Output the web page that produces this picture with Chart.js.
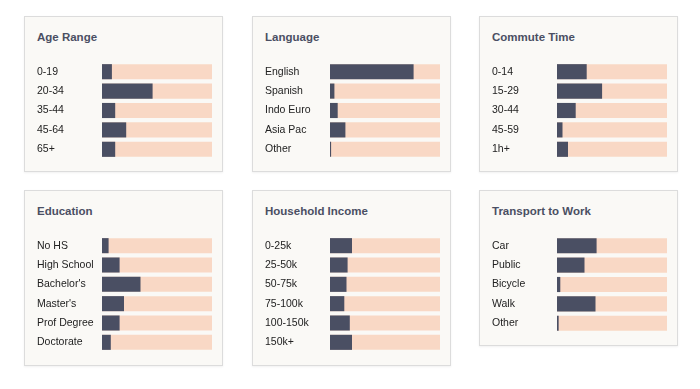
<!DOCTYPE html>
<html>
<head>
<meta charset="utf-8">
<script src="https://cdn.jsdelivr.net/npm/chart.js@4"></script>
<style>
  html, body { margin: 0; padding: 0; background: #ffffff; }
  body { width: 700px; height: 389px; position: relative; overflow: hidden;
         font-family: "Liberation Sans", Helvetica, Arial, sans-serif; }
  .panel { position: absolute; width: 199px; box-sizing: border-box;
           background: #faf9f6; border: 1px solid #dcdcdc;
           box-shadow: 0 1px 2px rgba(0,0,0,0.06); }
  .panel h3 { position: absolute; left: 12px; top: 13px; margin: 0;
              font-size: 11.5px; font-weight: bold; color: #4a4f63; line-height: 14px; }
  .panel canvas { position: absolute; left: 12px; top: 45px; }
</style>
</head>
<body>
<div class="panel" style="left:24px; top:16px; height:156px"><h3>Age Range</h3><canvas id="c1"></canvas></div>
<div class="panel" style="left:252px; top:16px; height:156px"><h3>Language</h3><canvas id="c2"></canvas></div>
<div class="panel" style="left:479px; top:16px; height:156px"><h3>Commute Time</h3><canvas id="c3"></canvas></div>
<div class="panel" style="left:24px; top:190px; height:176px"><h3>Education</h3><canvas id="c4"></canvas></div>
<div class="panel" style="left:252px; top:190px; height:176px"><h3>Household Income</h3><canvas id="c5"></canvas></div>
<div class="panel" style="left:479px; top:190px; height:156px"><h3>Transport to Work</h3><canvas id="c6"></canvas></div>
<script>
// ---------- DATA (percent of people) ----------
const ageLabels = ["0-19", "20-34", "35-44", "45-64", "65+"];
const ageValues = [9, 46, 12, 22, 12];

const languageLabels = ["English", "Spanish", "Indo Euro", "Asia Pac", "Other"];
const languageValues = [76, 4, 7, 14, 1];

const commuteLabels = ["0-14", "15-29", "30-44", "45-59", "1h+"];
const commuteValues = [27, 41, 17, 5, 10];

const educationLabels = ["No HS", "High School", "Bachelor's", "Master's", "Prof Degree", "Doctorate"];
const educationValues = [6, 16, 35, 20, 16, 8];

const incomeLabels = ["0-25k", "25-50k", "50-75k", "75-100k", "100-150k", "150k+"];
const incomeValues = [20, 16, 15, 13, 18, 20];

const transportLabels = ["Car", "Public", "Bicycle", "Walk", "Other"];
const transportValues = [36, 25, 3, 35, 1.5];

const trackMax = 100;

const DARK = "#4a4f63";
const PEACH = "#f9d8c5";

// ---------- ONE SMALL BAR CHART PER PANEL ----------
function makeChart(id, labels, values) {
  const canvas = document.getElementById(id);
  const rowH = 19.4;
  canvas.width = 175;
  canvas.height = Math.round(labels.length * rowH);
  canvas.style.width = canvas.width + "px";
  canvas.style.height = canvas.height + "px";

  new Chart(canvas, {
    type: "bar",
    data: {
      labels: labels,
      datasets: [
        { data: values, backgroundColor: DARK, grouped: false, order: 1 },
        { data: labels.map(() => trackMax), backgroundColor: PEACH, grouped: false, order: 2 }
      ]
    },
    options: {
      indexAxis: "y",
      responsive: false,
      animation: false,
      layout: { padding: 0 },
      barPercentage: 0.78,
      categoryPercentage: 1,
      scales: {
        x: { display: false, min: 0, max: trackMax },
        y: {
          grid: { display: false },
          border: { display: false },
          ticks: {
            crossAlign: "far",
            padding: 0,
            autoSkip: false,
            color: "#222222",
            font: { family: "'Liberation Sans', Helvetica, Arial, sans-serif", size: 10.5 }
          },
          afterFit(scale) {
            scale.width = 65;
            scale.paddingTop = 0;
            scale.paddingBottom = 0;
          }
        }
      },
      plugins: { legend: { display: false }, tooltip: { enabled: false } }
    }
  });
}

makeChart("c1", ageLabels, ageValues);
makeChart("c2", languageLabels, languageValues);
makeChart("c3", commuteLabels, commuteValues);
makeChart("c4", educationLabels, educationValues);
makeChart("c5", incomeLabels, incomeValues);
makeChart("c6", transportLabels, transportValues);
</script>
</body>
</html>
